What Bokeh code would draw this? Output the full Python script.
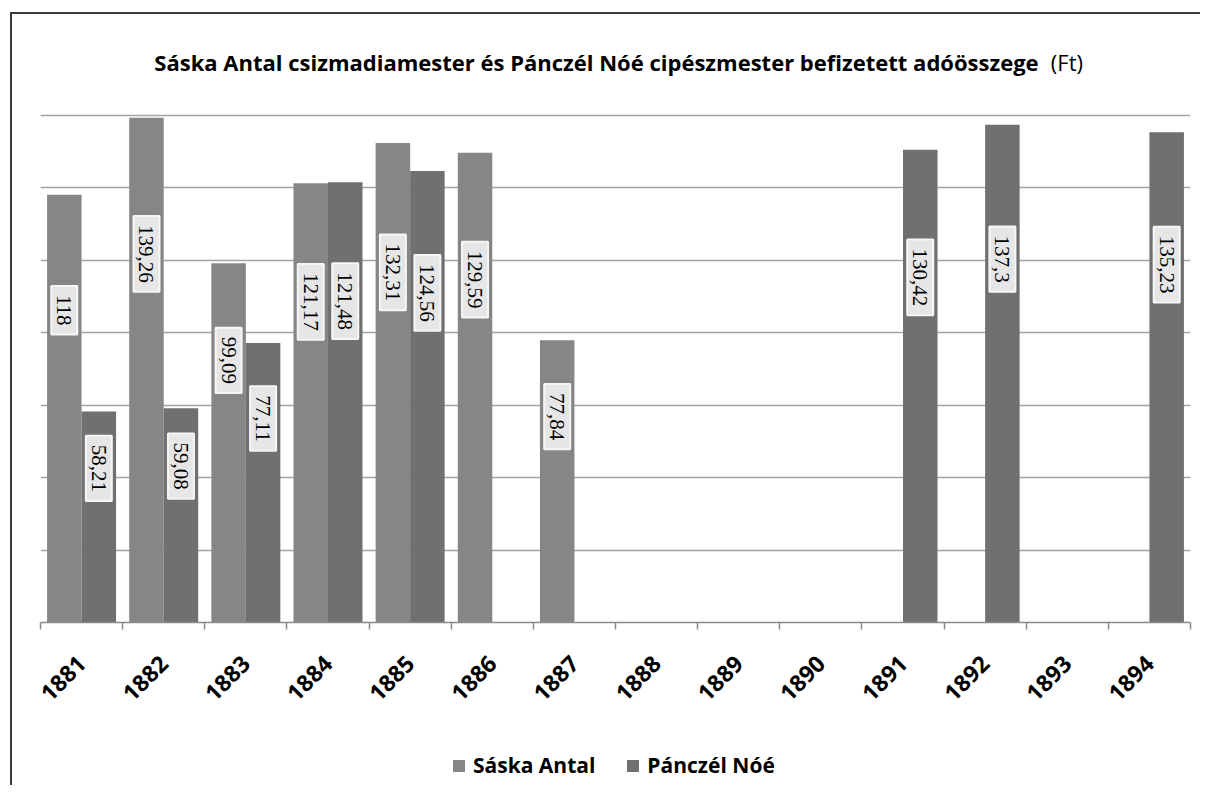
import math
from bokeh.plotting import figure
from bokeh.layouts import column
from bokeh.models import (ColumnDataSource, Range1d, LinearAxis,
                          FixedTicker, Grid, Legend, LegendItem, Label)
from bokeh.core.properties import value
from bokeh.embed import file_html
from bokeh.resources import INLINE

# ---- data ----
years = [str(y) for y in range(1881, 1895)]
saska = [118, 139.26, 99.09, 121.17, 132.31, 129.59, 77.84, None, None, None, None, None, None, None]
panczel = [58.21, 59.08, 77.11, 121.48, 124.56, None, None, None, None, None, 130.42, 137.3, None, 135.23]
series_names = ["Sáska Antal", "Pánczél Nóé"]
title_main = "Sáska Antal csizmadiamester és Pánczél Nóé cipészmester  befizetett adóösszege"
title_unit = "(Ft)"
y_ticks = [0, 20, 40, 60, 80, 100, 120, 140, 160]

# ---- style ----
colors = ["#868686", "#707070"]
BAR_W = 0.42
LABEL_FRAC = 0.73
sans = "Open Sans"
n = len(years)
centers = [i + 0.5 for i in range(n)]
edges = list(range(n + 1))


def make_source(vals, off):
    xs = [c + off for c, v in zip(centers, vals) if v is not None]
    vs = [v for v in vals if v is not None]
    labels = [("%g" % v).replace(".", ",") for v in vs]
    return ColumnDataSource(dict(x=xs, val=vs, label=labels,
                                 label_y=[v * LABEL_FRAC for v in vs]))


def strip_grids(fig):
    fig.center = [c for c in fig.center if not isinstance(c, Grid)]


p = figure(x_range=Range1d(0, n), y_range=Range1d(0, 160),
           width=1188, height=715, output_backend="svg", toolbar_location=None,
           x_axis_location=None, y_axis_location=None,
           min_border_left=28, min_border_right=10, min_border_top=28, min_border_bottom=107)
strip_grids(p)
p.outline_line_color = None
p.background_fill_color = "white"
p.border_fill_color = "white"

p.add_layout(Grid(dimension=1, ticker=FixedTicker(ticks=y_ticks),
                  grid_line_color="#a3a3a3", grid_line_width=1.5))

sources = []
renderers = []
for vals, col, off in [(saska, colors[0], -BAR_W / 2), (panczel, colors[1], BAR_W / 2)]:
    src = make_source(vals, off)
    sources.append(src)
    r = p.vbar(x="x", top="val", width=BAR_W, source=src, fill_color=col, line_color=None)
    renderers.append(r)
    p.text(x="x", y="label_y", text="label", source=src,
           angle=-math.pi / 2, text_align="center", text_baseline="middle",
           text_font=value("Liberation Serif"), text_font_size="21px", text_color="black",
           background_fill_color="#e6e6e6", border_line_color="#f6f6f6", border_line_width=2,
           padding=dict(left=9, right=9, top=6, bottom=6))

x_axis = LinearAxis(ticker=FixedTicker(ticks=centers, minor_ticks=edges),
                    major_label_overrides={c: y for c, y in zip(centers, years)},
                    major_tick_line_color=None, major_tick_out=7, major_tick_in=0,
                    minor_tick_out=7, minor_tick_in=0,
                    minor_tick_line_color="#8a8a8a", minor_tick_line_width=1.5,
                    axis_line_color="#8a8a8a", axis_line_width=1.5,
                    major_label_orientation=math.pi / 4,
                    major_label_text_font=sans, major_label_text_font_style="bold",
                    major_label_text_font_size="23px", major_label_text_color="black",
                    major_label_standoff=30)
p.add_layout(x_axis, "below")

p.add_layout(Label(x=12.22, y=154.5, text=title_main, text_align="right", text_baseline="middle",
                   text_font=sans, text_font_style="bold", text_font_size="22px", text_color="black"))
p.add_layout(Label(x=12.30, y=154.5, text=title_unit, text_align="left", text_baseline="middle",
                   text_font=sans, text_font_size="22px", text_color="black"))

# ---- legend strip below the chart ----
lg = figure(x_range=Range1d(0, n), y_range=Range1d(1000, 1001),
            width=1188, height=56, output_backend="svg", toolbar_location=None,
            x_axis_location=None, y_axis_location=None, min_border=0)
strip_grids(lg)
lg.outline_line_color = None
lg.background_fill_color = "white"
lg.border_fill_color = "white"
lg_renderers = [lg.vbar(x="x", top="val", width=BAR_W, source=sources[i],
                        fill_color=colors[i], line_color=None) for i in range(2)]
legend = Legend(items=[LegendItem(label=series_names[i], renderers=[lg_renderers[i]]) for i in range(2)],
                orientation="horizontal", location=(411, 6),
                label_text_font=sans, label_text_font_style="bold", label_text_font_size="21px",
                label_text_color="black",
                glyph_width=15, glyph_height=15, label_standoff=7, spacing=30,
                border_line_color=None, background_fill_alpha=0, margin=0, padding=5)
lg.add_layout(legend)

layout = column(p, lg, spacing=0)
layout.margin = (12, 0, 0, 10)
layout.styles = {"border-left": "2px solid #3a3a3a", "border-top": "2px solid #3a3a3a"}

open("out.html", "w").write(file_html(layout, INLINE))
